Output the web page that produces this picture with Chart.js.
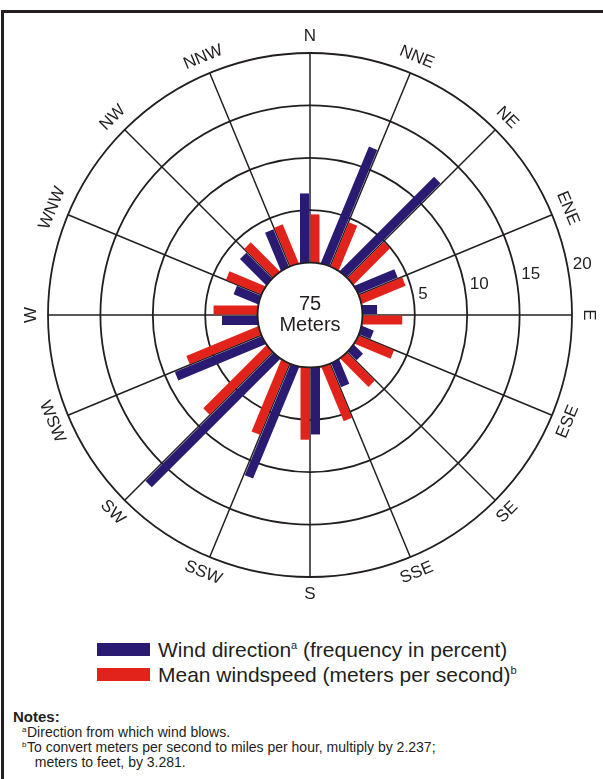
<!DOCTYPE html>
<html>
<head>
<meta charset="utf-8">
<script src="https://cdn.jsdelivr.net/npm/chart.js@4.4.0/dist/chart.umd.min.js"></script>
<style>
  html, body { margin: 0; padding: 0; background: #fff; }
  body { width: 603px; height: 779px; position: relative; overflow: hidden;
         font-family: "Liberation Sans", Arial, Helvetica, sans-serif; color: #231f20; }
  .frame { position: absolute; left: 1px; top: 10px; width: 700px; height: 900px;
           border-top: 3px solid #231f20; border-left: 3px solid #231f20; }
  .wrap { position: absolute; left: 0; top: 0; width: 603px; height: 610px; }
  .legend { position: absolute; left: 97px; top: 637px; font-size: 21px; line-height: 25px; }
  .legend .row { display: flex; align-items: center; height: 25px; white-space: nowrap; }
  .legend .sw { width: 53px; height: 13px; margin-right: 8px; flex: none; }
  .legend sup { font-size: 11px; position: relative; top: -4px; vertical-align: top; }
  .notes { position: absolute; left: 13px; top: 709px; font-size: 14px; line-height: 15px; white-space: nowrap; }
  .notes b { font-size: 15px; }
  .notes .ln { padding-left: 9px; position: relative; }
  .notes .ln sup { position: absolute; left: 9px; top: -3px; font-size: 8px; }
  .notes .ln span { padding-left: 5px; }
</style>
</head>
<body>
<div class="frame"></div>
<div class="wrap"><canvas id="rose"></canvas></div>
<div class="legend">
  <div class="row"><div class="sw" style="background:#2b1a72"></div>Wind direction<sup>a</sup>&nbsp;(frequency in percent)</div>
  <div class="row"><div class="sw" style="background:#e1231b"></div>Mean windspeed (meters per second)<sup>b</sup></div>
</div>
<div class="notes">
  <div><b>Notes:</b></div>
  <div class="ln"><sup>a</sup><span>Direction from which wind blows.</span></div>
  <div class="ln"><sup>b</sup><span>To convert meters per second to miles per hour, multiply by 2.237;</span></div>
  <div class="ln"><span>&nbsp;&nbsp;meters to feet, by 3.281.</span></div>
</div>
<script>
// 16 compass directions, clockwise from north
var directions = ['N', 'NNE', 'NE', 'ENE', 'E', 'ESE', 'SE', 'SSE', 'S', 'SSW', 'SW', 'WSW', 'W', 'WNW', 'NW', 'NNW'];
// wind direction frequency, percent
var frequency = [6.6, 12.0, 12.7, 4.1, 1.4, 1.2, 1.2, 2.5, 6.4, 11.5, 17.3, 9.0, 3.4, 2.5, 3.5, 3.9];
// mean windspeed, m/s
var windspeed = [4.6, 4.6, 4.9, 4.5, 3.8, 3.7, 3.8, 5.6, 6.9, 7.4, 8.5, 7.4, 4.2, 3.7, 3.9, 4.0];
var ringTicks = [5, 10, 15, 20];
var centerText = ['75', 'Meters'];

var INK = '#231f20';
var FONT = '"Liberation Sans", Arial, Helvetica, sans-serif';

// draws side by side radial bars from the radar data, plus the labels
var roseBars = {
    id: 'roseBars',
    afterDatasetsDraw: function(chart) {
        var ctx = chart.ctx;
        var r = chart.scales.r;
        var offsets = [-5.5, 5];   // blue counter-clockwise, red clockwise
        var half = 4.5;
        ctx.save();
        chart.data.datasets.forEach(function(ds, k) {
            ctx.fillStyle = ds.barColor;
            ds.data.forEach(function(v, i) {
                var a = r.getIndexAngle(i) - Math.PI / 2;
                var px = -Math.sin(a), py = Math.cos(a);
                var p0 = r.getPointPositionForValue(i, -1);
                var p1 = r.getPointPositionForValue(i, v);
                var o1 = offsets[k] - half, o2 = offsets[k] + half;
                ctx.beginPath();
                ctx.moveTo(p0.x + px * o1, p0.y + py * o1);
                ctx.lineTo(p1.x + px * o1, p1.y + py * o1);
                ctx.lineTo(p1.x + px * o2, p1.y + py * o2);
                ctx.lineTo(p0.x + px * o2, p0.y + py * o2);
                ctx.closePath();
                ctx.fill();
            });
        });

        // white hub
        var r0 = r.getDistanceFromCenterForValue(0);
        ctx.beginPath();
        ctx.arc(r.xCenter, r.yCenter, r0, 0, Math.PI * 2);
        ctx.fillStyle = '#fff';
        ctx.fill();
        ctx.lineWidth = 1.8;
        ctx.strokeStyle = INK;
        ctx.stroke();

        ctx.fillStyle = INK;
        ctx.textAlign = 'center';
        ctx.textBaseline = 'middle';
        ctx.font = '20px ' + FONT;
        ctx.fillText(centerText[0], r.xCenter, r.yCenter - 11);
        ctx.fillText(centerText[1], r.xCenter, r.yCenter + 10);

        // ring values
        ctx.font = '17px ' + FONT;
        ctx.textAlign = 'left';
        var ta = 11 * Math.PI / 180;
        ringTicks.forEach(function(t) {
            var d = r.getDistanceFromCenterForValue(t);
            ctx.fillText(String(t), r.xCenter + d * Math.cos(ta) + 5.5, r.yCenter - d * Math.sin(ta) - 1);
        });

        // direction labels along the rim
        ctx.textAlign = 'center';
        ctx.font = '17px ' + FONT;
        var dOut = r.getDistanceFromCenterForValue(r.max) + 17;
        directions.forEach(function(lbl, i) {
            var ang = r.getIndexAngle(i);
            var p = r.getPointPosition(i, dOut);
            var deg = ang * 180 / Math.PI;
            var rot = (deg > 90 && deg < 270) ? ang - Math.PI : ang;
            ctx.save();
            ctx.translate(p.x, p.y);
            ctx.rotate(rot);
            ctx.fillText(lbl, 0, 0);
            ctx.restore();
        });
        ctx.restore();
    }
};

var chart = new Chart(document.getElementById('rose'), {
    type: 'radar',
    data: {
        labels: directions,
        datasets: [
            { label: 'Wind direction (frequency in percent)', data: frequency, barColor: '#2b1a72',
              showLine: false, pointRadius: 0, pointHoverRadius: 0, fill: false },
            { label: 'Mean windspeed (meters per second)', data: windspeed, barColor: '#e1231b',
              showLine: false, pointRadius: 0, pointHoverRadius: 0, fill: false }
        ]
    },
    options: {
        animation: false,
        responsive: true,
        maintainAspectRatio: false,
        layout: { padding: { left: 48, right: 31, top: 53, bottom: 33 } },
        plugins: { legend: { display: false }, tooltip: { enabled: false } },
        scales: {
            r: {
                min: -5,
                max: 20,
                ticks: { stepSize: 5, display: false },
                grid: { circular: true, color: INK, lineWidth: 1.8 },
                angleLines: { color: INK, lineWidth: 1.5 },
                pointLabels: { display: false }
            }
        }
    },
    plugins: [roseBars]
});
</script>
</body>
</html>
